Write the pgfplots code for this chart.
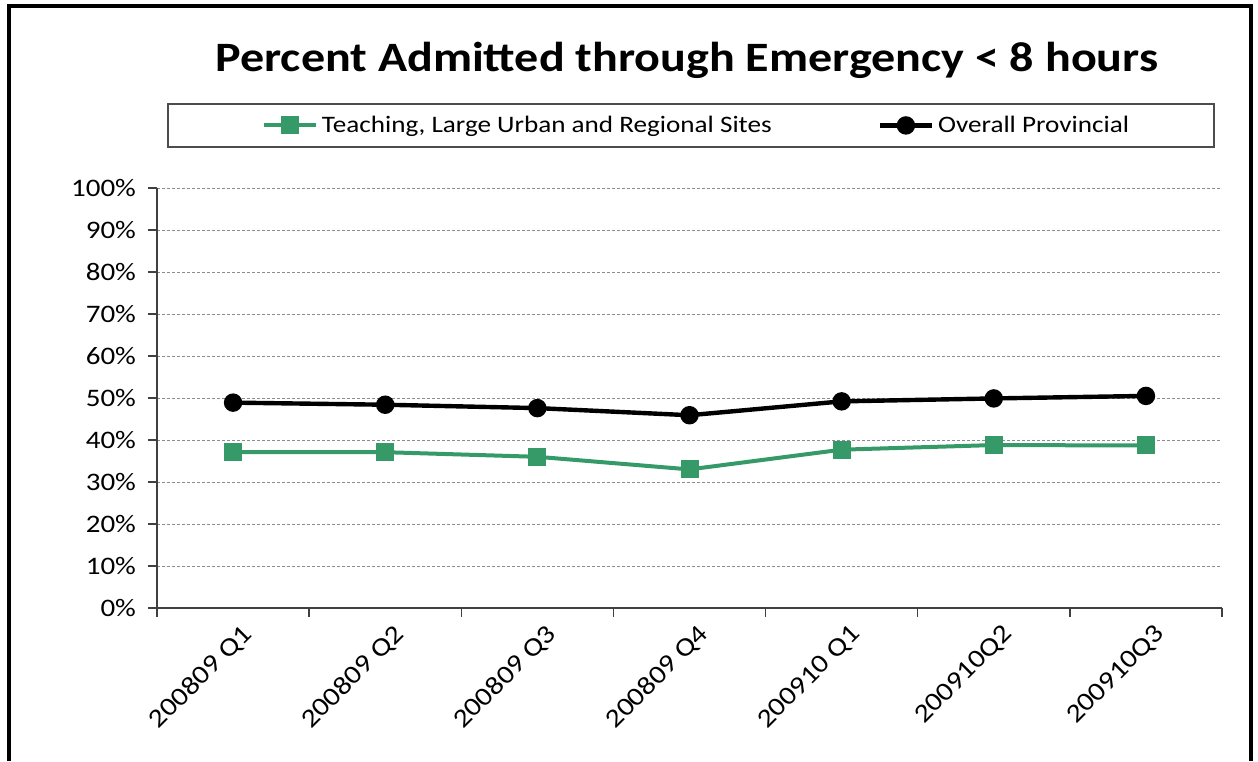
\documentclass[border=0pt]{standalone}
\usepackage{fontspec}
\setmainfont{Carlito}[FakeStretch=1.15]
\usepackage{pgfplots}
\pgfplotsset{compat=1.18}
\definecolor{tgreen}{RGB}{53,154,104}
\begin{document}
\begin{tikzpicture}
  % 1 px of the reference = 0.5pt
  \begin{scope}[x=0.5pt,y=-0.5pt]
    \path[use as bounding box] (0,0) rectangle (1258,761);
    \draw[line width=2pt] (9,761) -- (9,6) -- (1251,6) -- (1251,761);
    \node[font=\bfseries\fontsize{20.9}{25}\selectfont] at (687,60) {Percent Admitted through Emergency < 8 hours};
    \draw[black!70, line width=0.75pt] (168,104) rectangle (1214,147);
  \end{scope}
  \begin{axis}[
    at={(78.5pt,-304pt)}, anchor=south west,
    scale only axis, width=532.5pt, height=210pt,
    xmin=0, xmax=7, ymin=0, ymax=100,
    xtick={0,...,7}, xticklabels={},
    extra x ticks={0.5,1.5,2.5,3.5,4.5,5.5,6.5},
    extra x tick labels={200809 Q1,200809 Q2,200809 Q3,200809 Q4,200910 Q1,200910Q2,200910Q3},
    extra x tick style={tick style={draw=none}},
    ytick={0,10,...,100},
    yticklabel={\pgfmathprintnumber{\tick}\%},
    /pgf/number format/assume math mode=true,
    ymajorgrids,
    grid style={black!45, line width=0.5pt, dash pattern=on 1.5pt off 1pt},
    axis lines*=left,
    axis line style={-, black!75, line width=0.75pt},
    tick align=outside, major tick length=4.5pt,
    tick style={black!75, line width=0.75pt},
    yticklabel style={font=\fontsize{12.6}{14}\selectfont, xshift=-2.5pt},
    xticklabel style={font=\fontsize{13}{15}\selectfont, rotate=45, anchor=east, xshift=4pt, yshift=-10pt},
    legend columns=2,
    legend style={at={(rel axis cs:0.5075,1.149)}, anchor=center, draw=none, fill=none,
      font=\fontsize{11.8}{14}\selectfont,
      /tikz/every even column/.append style={column sep=51pt}},
    legend image code/.code={\draw[mark repeat=2,mark phase=2,#1] plot coordinates {(0pt,0pt) (13pt,0pt) (26pt,0pt)};},
  ]
    \addplot[tgreen, line width=2pt, mark=square*, mark size=3.5pt] coordinates {
      (0.5,37.1) (1.5,37.1) (2.5,36.0) (3.5,33.0) (4.5,37.7) (5.5,38.8) (6.5,38.7)
    };
    \addlegendentry{Teaching, Large Urban and Regional Sites}
    \addplot[black, line width=2.2pt, mark=*, mark size=3.5pt] coordinates {
      (0.5,48.9) (1.5,48.4) (2.5,47.6) (3.5,45.9) (4.5,49.2) (5.5,49.9) (6.5,50.5)
    };
    \addlegendentry{Overall Provincial}
  \end{axis}
\end{tikzpicture}
\end{document}
